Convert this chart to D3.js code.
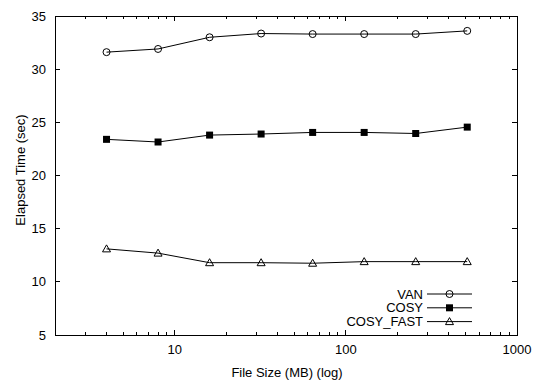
<!DOCTYPE html>
<html>
<head>
<meta charset="utf-8">
<script src="https://cdn.jsdelivr.net/npm/d3@7"></script>
<style>
  body { margin: 0; background: #fff; }
  text { font-family: "Liberation Sans", Arial, sans-serif; font-size: 13px; fill: #000; }
</style>
</head>
<body>
<div id="chart"></div>
<script>
// file sizes in MB
const fileSizes = [4, 8, 16, 32, 64, 128, 256, 512];
const van = [31.6, 31.9, 33.0, 33.35, 33.3, 33.3, 33.3, 33.6];
const cosy = [23.4, 23.15, 23.8, 23.9, 24.05, 24.05, 23.95, 24.55];
const cosyFast = [13.1, 12.7, 11.8, 11.8, 11.75, 11.9, 11.9, 11.9];
const seriesNames = ['VAN', 'COSY', 'COSY_FAST'];
const yTicks = [5, 10, 15, 20, 25, 30, 35];
const xTicks = [10, 100, 1000];

const width = 540, height = 388;
const margin = { top: 16, right: 23, bottom: 53, left: 55 };

const svg = d3.select('#chart')
  .append('svg')
  .attr('width', width)
  .attr('height', height);

const x = d3.scaleLog().domain([2, 1000]).range([margin.left, width - margin.right]);
const y = d3.scaleLinear().domain([5, 35]).range([height - margin.bottom, margin.top]);

const x0 = margin.left, x1 = width - margin.right;
const y0 = height - margin.bottom, y1 = margin.top;

// minor ticks for the log axis
const minorTicks = [];
[1, 10, 100].forEach(d => {
  for (let k = 2; k <= 9; k++) if (d * k >= 2 && d * k < 1000) minorTicks.push(d * k);
});

const ticks = svg.append('g').attr('stroke', '#000').attr('stroke-width', 1).attr('shape-rendering', 'crispEdges');

// y ticks, left and right, pointing inward
yTicks.forEach(v => {
  ticks.append('line').attr('x1', x0).attr('x2', x0 + 5).attr('y1', y(v)).attr('y2', y(v));
  ticks.append('line').attr('x1', x1).attr('x2', x1 - 5).attr('y1', y(v)).attr('y2', y(v));
});
// x ticks, bottom and top
xTicks.forEach(v => {
  ticks.append('line').attr('x1', x(v)).attr('x2', x(v)).attr('y1', y0).attr('y2', y0 - 5);
  ticks.append('line').attr('x1', x(v)).attr('x2', x(v)).attr('y1', y1).attr('y2', y1 + 5);
});
minorTicks.forEach(v => {
  ticks.append('line').attr('x1', x(v)).attr('x2', x(v)).attr('y1', y0).attr('y2', y0 - 3);
  ticks.append('line').attr('x1', x(v)).attr('x2', x(v)).attr('y1', y1).attr('y2', y1 + 3);
});

// frame
svg.append('rect')
  .attr('x', x0).attr('y', y1)
  .attr('width', x1 - x0).attr('height', y0 - y1)
  .attr('fill', 'none').attr('stroke', '#000').attr('stroke-width', 1)
  .attr('shape-rendering', 'crispEdges');

// tick labels
svg.append('g').selectAll('text')
  .data(yTicks).enter().append('text')
  .attr('x', x0 - 9).attr('y', d => y(d)).attr('dy', '0.35em')
  .attr('text-anchor', 'end')
  .text(d => d);

svg.append('g').selectAll('text')
  .data(xTicks).enter().append('text')
  .attr('x', d => x(d)).attr('y', y0 + 19)
  .attr('text-anchor', 'middle')
  .text(d => d);

// axis titles
svg.append('text')
  .attr('x', 287).attr('y', y0 + 42)
  .attr('text-anchor', 'middle')
  .text('File Size (MB) (log)');

svg.append('text')
  .attr('transform', 'translate(25,170) rotate(-90)')
  .attr('text-anchor', 'middle')
  .text('Elapsed Time (sec)');

// markers
function drawMarker(g, kind, cx, cy) {
  if (kind === 'circle') {
    g.append('circle').attr('cx', cx).attr('cy', cy).attr('r', 3.5)
      .attr('fill', 'none').attr('stroke', '#000');
  } else if (kind === 'square') {
    g.append('rect').attr('x', cx - 3.5).attr('y', cy - 3.5).attr('width', 7).attr('height', 7)
      .attr('fill', '#000');
  } else {
    g.append('path').attr('d', `M${cx},${cy - 4}L${cx + 4},${cy + 3}L${cx - 4},${cy + 3}Z`)
      .attr('fill', 'none').attr('stroke', '#000');
  }
}

const series = [
  { name: seriesNames[0], values: van, marker: 'circle' },
  { name: seriesNames[1], values: cosy, marker: 'square' },
  { name: seriesNames[2], values: cosyFast, marker: 'triangle' }
];

const line = d3.line().x(d => x(d[0])).y(d => y(d[1]));

series.forEach((s, i) => {
  const pts = fileSizes.map((f, j) => [f, s.values[j]]);
  const g = svg.append('g');
  g.append('path').datum(pts).attr('d', line)
    .attr('fill', 'none').attr('stroke', '#000').attr('stroke-width', 1);
  pts.forEach(p => drawMarker(g, s.marker, x(p[0]), y(p[1])));

  // legend
  const ly = 294 + i * 13.8;
  const lg = svg.append('g');
  lg.append('text').attr('x', 423).attr('y', ly).attr('dy', '0.35em')
    .attr('text-anchor', 'end').text(s.name);
  lg.append('line').attr('x1', 427).attr('x2', 472).attr('y1', ly).attr('y2', ly)
    .attr('stroke', '#000');
  drawMarker(lg, s.marker, 449.5, ly);
});
</script>
</body>
</html>
